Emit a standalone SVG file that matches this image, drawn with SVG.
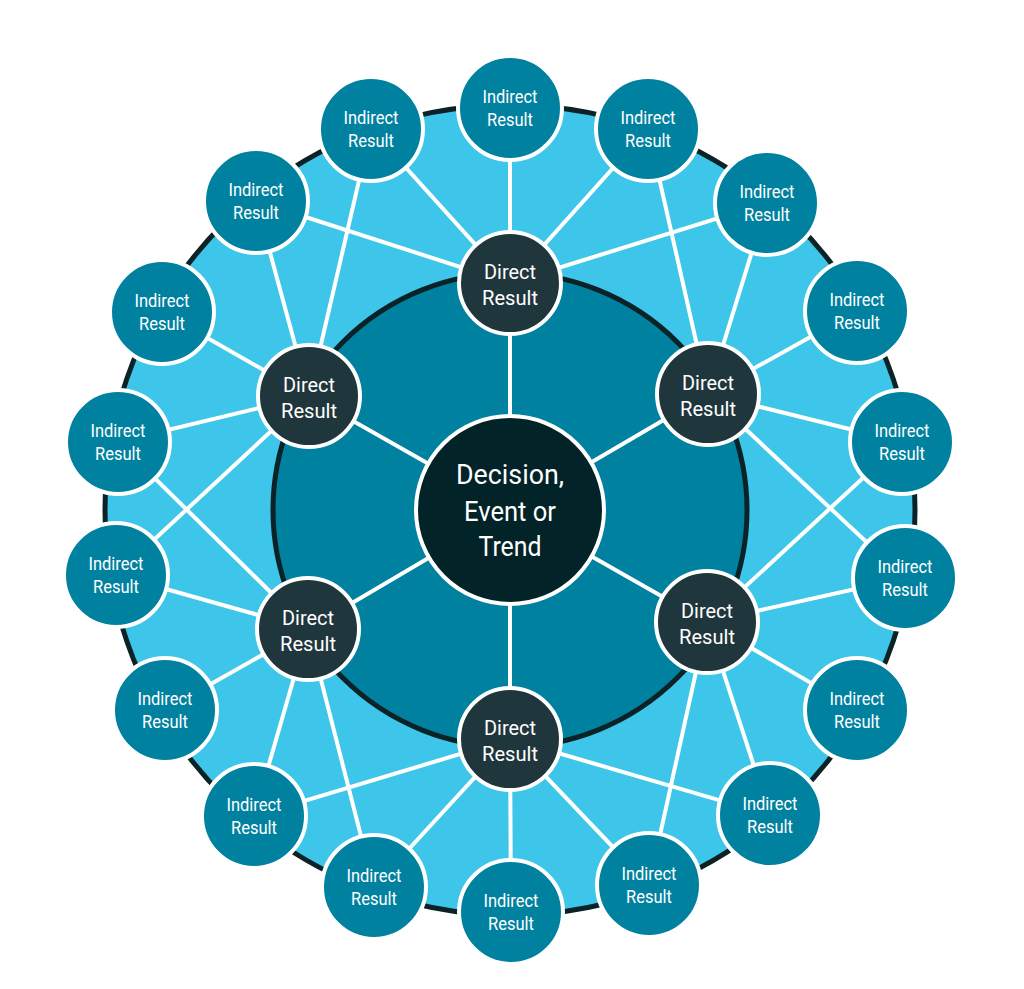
<svg xmlns="http://www.w3.org/2000/svg" width="1024" height="989" viewBox="0 0 1024 989">
<style>
.ring{fill:#3EC6EA;stroke:#0B2226;stroke-width:5}
.inner{fill:#0181A0;stroke:#0B2226;stroke-width:5}
.ln{stroke:#FFFFFF;stroke-width:4;stroke-linecap:round}
.ind{fill:#0181A0;stroke:#FFFFFF;stroke-width:4}
.dir{fill:#1F363C;stroke:#FFFFFF;stroke-width:4}
.ctr{fill:#022327;stroke:#FFFFFF;stroke-width:4}
text{font-family:Roboto,"Liberation Sans",sans-serif;fill:#FFFFFF;text-anchor:middle}
.ti{font-size:18px}
.td{font-size:21px}
.tc{font-size:28px}
</style>
<rect width="1024" height="989" fill="#FFFFFF"/>
<circle class="ring" cx="510" cy="510" r="405"/>
<circle class="inner" cx="510" cy="510" r="237"/>
<g id="connectors">
<line class="ln" x1="510" y1="510" x2="510" y2="283"/>
<line class="ln" x1="510" y1="510" x2="708" y2="394"/>
<line class="ln" x1="510" y1="510" x2="707" y2="622"/>
<line class="ln" x1="510" y1="510" x2="510" y2="739"/>
<line class="ln" x1="510" y1="510" x2="308" y2="629"/>
<line class="ln" x1="510" y1="510" x2="309" y2="396"/>
<!-- top direct -->
<line class="ln" x1="510" y1="283" x2="256" y2="201"/>
<line class="ln" x1="510" y1="283" x2="371" y2="129"/>
<line class="ln" x1="510" y1="283" x2="510" y2="108"/>
<line class="ln" x1="510" y1="283" x2="648" y2="129"/>
<line class="ln" x1="510" y1="283" x2="767" y2="203"/>
<!-- upper right direct -->
<line class="ln" x1="708" y1="394" x2="648" y2="129"/>
<line class="ln" x1="708" y1="394" x2="767" y2="203"/>
<line class="ln" x1="708" y1="394" x2="857" y2="311"/>
<line class="ln" x1="708" y1="394" x2="902" y2="442"/>
<line class="ln" x1="708" y1="394" x2="905" y2="578"/>
<!-- lower right direct -->
<line class="ln" x1="707" y1="622" x2="902" y2="442"/>
<line class="ln" x1="707" y1="622" x2="905" y2="578"/>
<line class="ln" x1="707" y1="622" x2="857" y2="710"/>
<line class="ln" x1="707" y1="622" x2="770" y2="815"/>
<line class="ln" x1="707" y1="622" x2="649" y2="885"/>
<!-- bottom direct -->
<line class="ln" x1="510" y1="739" x2="770" y2="815"/>
<line class="ln" x1="510" y1="739" x2="649" y2="885"/>
<line class="ln" x1="510" y1="739" x2="511" y2="912"/>
<line class="ln" x1="510" y1="739" x2="374" y2="887"/>
<line class="ln" x1="510" y1="739" x2="254" y2="816"/>
<!-- lower left direct -->
<line class="ln" x1="308" y1="629" x2="374" y2="887"/>
<line class="ln" x1="308" y1="629" x2="254" y2="816"/>
<line class="ln" x1="308" y1="629" x2="165" y2="710"/>
<line class="ln" x1="308" y1="629" x2="116" y2="575"/>
<line class="ln" x1="308" y1="629" x2="118" y2="442"/>
<!-- upper left direct -->
<line class="ln" x1="309" y1="396" x2="116" y2="575"/>
<line class="ln" x1="309" y1="396" x2="118" y2="442"/>
<line class="ln" x1="309" y1="396" x2="162" y2="312"/>
<line class="ln" x1="309" y1="396" x2="256" y2="201"/>
<line class="ln" x1="309" y1="396" x2="371" y2="129"/>
</g>
<g id="center"><circle class="ctr" cx="510" cy="510" r="94"/><text class="tc" x="510" y="484" textLength="108" lengthAdjust="spacingAndGlyphs">Decision,</text><text class="tc" x="510" y="521" textLength="92" lengthAdjust="spacingAndGlyphs">Event or</text><text class="tc" x="510" y="556" textLength="63" lengthAdjust="spacingAndGlyphs">Trend</text></g>
<g id="direct1"><circle class="dir" cx="510" cy="283" r="51"/><text class="td" x="510" y="279" textLength="52" lengthAdjust="spacingAndGlyphs">Direct</text><text class="td" x="510" y="305" textLength="56" lengthAdjust="spacingAndGlyphs">Result</text></g>
<g id="direct2"><circle class="dir" cx="708" cy="394" r="51"/><text class="td" x="708" y="390" textLength="52" lengthAdjust="spacingAndGlyphs">Direct</text><text class="td" x="708" y="416" textLength="56" lengthAdjust="spacingAndGlyphs">Result</text></g>
<g id="direct3"><circle class="dir" cx="707" cy="622" r="51"/><text class="td" x="707" y="618" textLength="52" lengthAdjust="spacingAndGlyphs">Direct</text><text class="td" x="707" y="644" textLength="56" lengthAdjust="spacingAndGlyphs">Result</text></g>
<g id="direct4"><circle class="dir" cx="510" cy="739" r="51"/><text class="td" x="510" y="735" textLength="52" lengthAdjust="spacingAndGlyphs">Direct</text><text class="td" x="510" y="761" textLength="56" lengthAdjust="spacingAndGlyphs">Result</text></g>
<g id="direct5"><circle class="dir" cx="308" cy="629" r="51"/><text class="td" x="308" y="625" textLength="52" lengthAdjust="spacingAndGlyphs">Direct</text><text class="td" x="308" y="651" textLength="56" lengthAdjust="spacingAndGlyphs">Result</text></g>
<g id="direct6"><circle class="dir" cx="309" cy="396" r="51"/><text class="td" x="309" y="392" textLength="52" lengthAdjust="spacingAndGlyphs">Direct</text><text class="td" x="309" y="418" textLength="56" lengthAdjust="spacingAndGlyphs">Result</text></g>
<g id="indirect1"><circle class="ind" cx="510" cy="108" r="52"/><text class="ti" x="510" y="103" textLength="55" lengthAdjust="spacingAndGlyphs">Indirect</text><text class="ti" x="510" y="126" textLength="46" lengthAdjust="spacingAndGlyphs">Result</text></g>
<g id="indirect2"><circle class="ind" cx="648" cy="129" r="52"/><text class="ti" x="648" y="124" textLength="55" lengthAdjust="spacingAndGlyphs">Indirect</text><text class="ti" x="648" y="147" textLength="46" lengthAdjust="spacingAndGlyphs">Result</text></g>
<g id="indirect3"><circle class="ind" cx="767" cy="203" r="52"/><text class="ti" x="767" y="198" textLength="55" lengthAdjust="spacingAndGlyphs">Indirect</text><text class="ti" x="767" y="221" textLength="46" lengthAdjust="spacingAndGlyphs">Result</text></g>
<g id="indirect4"><circle class="ind" cx="857" cy="311" r="52"/><text class="ti" x="857" y="306" textLength="55" lengthAdjust="spacingAndGlyphs">Indirect</text><text class="ti" x="857" y="329" textLength="46" lengthAdjust="spacingAndGlyphs">Result</text></g>
<g id="indirect5"><circle class="ind" cx="902" cy="442" r="52"/><text class="ti" x="902" y="437" textLength="55" lengthAdjust="spacingAndGlyphs">Indirect</text><text class="ti" x="902" y="460" textLength="46" lengthAdjust="spacingAndGlyphs">Result</text></g>
<g id="indirect6"><circle class="ind" cx="905" cy="578" r="52"/><text class="ti" x="905" y="573" textLength="55" lengthAdjust="spacingAndGlyphs">Indirect</text><text class="ti" x="905" y="596" textLength="46" lengthAdjust="spacingAndGlyphs">Result</text></g>
<g id="indirect7"><circle class="ind" cx="857" cy="710" r="52"/><text class="ti" x="857" y="705" textLength="55" lengthAdjust="spacingAndGlyphs">Indirect</text><text class="ti" x="857" y="728" textLength="46" lengthAdjust="spacingAndGlyphs">Result</text></g>
<g id="indirect8"><circle class="ind" cx="770" cy="815" r="52"/><text class="ti" x="770" y="810" textLength="55" lengthAdjust="spacingAndGlyphs">Indirect</text><text class="ti" x="770" y="833" textLength="46" lengthAdjust="spacingAndGlyphs">Result</text></g>
<g id="indirect9"><circle class="ind" cx="649" cy="885" r="52"/><text class="ti" x="649" y="880" textLength="55" lengthAdjust="spacingAndGlyphs">Indirect</text><text class="ti" x="649" y="903" textLength="46" lengthAdjust="spacingAndGlyphs">Result</text></g>
<g id="indirect10"><circle class="ind" cx="511" cy="912" r="52"/><text class="ti" x="511" y="907" textLength="55" lengthAdjust="spacingAndGlyphs">Indirect</text><text class="ti" x="511" y="930" textLength="46" lengthAdjust="spacingAndGlyphs">Result</text></g>
<g id="indirect11"><circle class="ind" cx="374" cy="887" r="52"/><text class="ti" x="374" y="882" textLength="55" lengthAdjust="spacingAndGlyphs">Indirect</text><text class="ti" x="374" y="905" textLength="46" lengthAdjust="spacingAndGlyphs">Result</text></g>
<g id="indirect12"><circle class="ind" cx="254" cy="816" r="52"/><text class="ti" x="254" y="811" textLength="55" lengthAdjust="spacingAndGlyphs">Indirect</text><text class="ti" x="254" y="834" textLength="46" lengthAdjust="spacingAndGlyphs">Result</text></g>
<g id="indirect13"><circle class="ind" cx="165" cy="710" r="52"/><text class="ti" x="165" y="705" textLength="55" lengthAdjust="spacingAndGlyphs">Indirect</text><text class="ti" x="165" y="728" textLength="46" lengthAdjust="spacingAndGlyphs">Result</text></g>
<g id="indirect14"><circle class="ind" cx="116" cy="575" r="52"/><text class="ti" x="116" y="570" textLength="55" lengthAdjust="spacingAndGlyphs">Indirect</text><text class="ti" x="116" y="593" textLength="46" lengthAdjust="spacingAndGlyphs">Result</text></g>
<g id="indirect15"><circle class="ind" cx="118" cy="442" r="52"/><text class="ti" x="118" y="437" textLength="55" lengthAdjust="spacingAndGlyphs">Indirect</text><text class="ti" x="118" y="460" textLength="46" lengthAdjust="spacingAndGlyphs">Result</text></g>
<g id="indirect16"><circle class="ind" cx="162" cy="312" r="52"/><text class="ti" x="162" y="307" textLength="55" lengthAdjust="spacingAndGlyphs">Indirect</text><text class="ti" x="162" y="330" textLength="46" lengthAdjust="spacingAndGlyphs">Result</text></g>
<g id="indirect17"><circle class="ind" cx="256" cy="201" r="52"/><text class="ti" x="256" y="196" textLength="55" lengthAdjust="spacingAndGlyphs">Indirect</text><text class="ti" x="256" y="219" textLength="46" lengthAdjust="spacingAndGlyphs">Result</text></g>
<g id="indirect18"><circle class="ind" cx="371" cy="129" r="52"/><text class="ti" x="371" y="124" textLength="55" lengthAdjust="spacingAndGlyphs">Indirect</text><text class="ti" x="371" y="147" textLength="46" lengthAdjust="spacingAndGlyphs">Result</text></g>
</svg>
